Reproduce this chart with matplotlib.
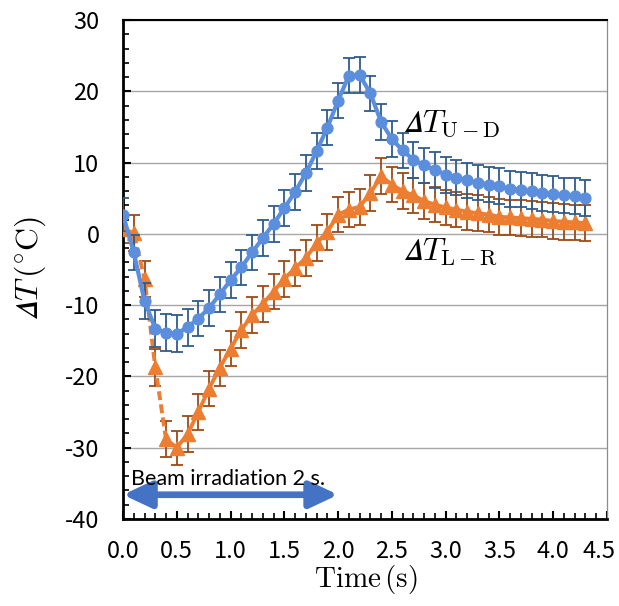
import numpy as np
import matplotlib
matplotlib.use("Agg")
import matplotlib.pyplot as plt
from matplotlib.ticker import MultipleLocator
from matplotlib.transforms import ScaledTranslation

plt.rcParams['mathtext.fontset'] = 'cm'
plt.rcParams['axes.unicode_minus'] = False

# time axis (s), sampled every 0.1 s
time = [0.0, 0.1, 0.2, 0.3, 0.4, 0.5, 0.6, 0.7, 0.8, 0.9,
        1.0, 1.1, 1.2, 1.3, 1.4, 1.5, 1.6, 1.7, 1.8, 1.9,
        2.0, 2.1, 2.2, 2.3, 2.4, 2.5, 2.6, 2.7, 2.8, 2.9,
        3.0, 3.1, 3.2, 3.3, 3.4, 3.5, 3.6, 3.7, 3.8, 3.9,
        4.0, 4.1, 4.2, 4.3]

# Delta T up-down
dt_ud = [2.7, -2.6, -9.4, -13.3, -13.9, -14.0, -13.1, -11.9, -10.4, -8.5,
         -6.5, -4.7, -2.6, -0.6, 1.4, 3.6, 5.9, 8.5, 11.6, 14.9,
         18.7, 22.2, 22.3, 19.7, 15.7, 13.3, 11.7, 10.4, 9.6, 9.0,
         8.3, 7.9, 7.5, 7.2, 6.9, 6.7, 6.3, 6.2, 6.0, 5.7,
         5.6, 5.4, 5.3, 5.0]
err_ud = [2.3, 2.5, 2.5, 2.6, 2.6, 2.6, 2.6, 2.5, 2.5, 2.5,
          2.5, 2.5, 2.5, 2.5, 2.5, 2.5, 2.5, 2.5, 2.5, 2.5,
          2.5, 2.5, 2.5, 2.5, 2.5, 2.5, 2.5, 2.5, 2.5, 2.5,
          2.5, 2.5, 2.5, 2.5, 2.5, 2.5, 2.5, 2.5, 2.5, 2.5,
          2.5, 2.5, 2.5, 2.5]

# Delta T left-right
dt_lr = [0.7, 0.1, -6.3, -18.7, -28.8, -30.0, -28.1, -25.0, -21.7, -18.8,
         -16.1, -13.5, -11.4, -9.8, -8.1, -6.3, -4.8, -3.4, -1.3, 0.3,
         2.7, 3.4, 3.8, 5.7, 8.1, 6.9, 6.0, 5.4, 4.6, 4.1,
         3.7, 3.4, 3.1, 2.9, 2.7, 2.4, 2.3, 2.2, 2.1, 2.0,
         1.8, 1.7, 1.6, 1.5]
err_lr = [2.0, 2.5, 2.5, 2.6, 2.5, 2.4, 2.5, 2.5, 2.5, 2.5,
          2.5, 2.5, 2.5, 2.5, 2.5, 2.5, 2.5, 2.5, 2.5, 2.5,
          2.5, 2.5, 2.5, 2.5, 2.5, 2.5, 2.5, 2.5, 2.5, 2.5,
          2.5, 2.5, 2.5, 2.5, 2.5, 2.5, 2.5, 2.5, 2.5, 2.5,
          2.5, 2.5, 2.5, 2.5]
n_dashed = 6  # first points of the L-R curve joined with a dashed line

blue = '#5B8EDC'
blue_err = '#2F5C8C'
orange = '#ED7D31'
orange_err = '#9E4A14'

fig = plt.figure(figsize=(6.19, 6.06), dpi=100)
ax = fig.add_axes([0.1987, 0.1436, 0.7819, 0.8234])

# orange series
ax.errorbar(time, dt_lr, yerr=err_lr, fmt='none', ecolor=orange_err,
            elinewidth=1.3, capsize=4, capthick=1.3, zorder=2)
ax.plot(time[:n_dashed], dt_lr[:n_dashed], color=orange, lw=2.8,
        dashes=(2.3, 1.1), zorder=3)
ax.plot(time[n_dashed - 1:], dt_lr[n_dashed - 1:], color=orange, lw=2.8, zorder=3)
ax.plot(time, dt_lr, ls='none', marker='^', ms=10, color=orange, zorder=3)

# blue series
ax.errorbar(time, dt_ud, yerr=err_ud, fmt='none', ecolor=blue_err,
            elinewidth=1.3, capsize=4, capthick=1.3, zorder=4)
ax.plot(time, dt_ud, color=blue, lw=3, marker='o', ms=7.8, zorder=5)

ax.set_xlim(0, 4.5)
ax.set_ylim(-40, 30)
ax.xaxis.set_major_locator(MultipleLocator(0.5))
ax.xaxis.set_minor_locator(MultipleLocator(0.1))
ax.yaxis.set_major_locator(MultipleLocator(10))
ax.yaxis.set_minor_locator(MultipleLocator(2))
ax.xaxis.set_major_formatter(lambda v, p: f'{v:.1f}')
ax.yaxis.set_major_formatter(lambda v, p: f'{v:.0f}')

ax.grid(axis='y', which='major', color='#A6A6A6', lw=1.0, zorder=0)
ax.set_axisbelow(True)

ax.tick_params(which='both', direction='in', top=False, right=False,
               labelsize=17, color='black')
ax.tick_params(which='major', length=6, width=1.5)
ax.tick_params(which='minor', length=4, width=1.2)
ax.tick_params(axis='x', which='major', pad=15)
ax.tick_params(axis='y', which='major', pad=17)
for lab in ax.get_xticklabels() + ax.get_yticklabels():
    lab.set_fontfamily(['Noto Sans CJK JP', 'DejaVu Sans'])
# last x label nudged left so it stays inside the figure
for lab in ax.get_xticklabels():
    if lab.get_text() == '4.5':
        lab.set_transform(lab.get_transform() +
                          ScaledTranslation(-0.08, 0, fig.dpi_scale_trans))

for side in ['left', 'bottom']:
    ax.spines[side].set_linewidth(2.0)
    ax.spines[side].set_color('black')
ax.spines['top'].set_linewidth(1.5)
ax.spines['right'].set_color('#8C8C8C')
ax.spines['right'].set_linewidth(0.9)

ax.set_ylabel(r'$𝛥T\,(^{\circ}\mathrm{C})$', fontsize=23, va='center')
ax.yaxis.set_label_coords(-0.192, 0.503)
ax.set_xlabel(r'$\mathrm{Time\,(s)}$', fontsize=21, va='center')
ax.xaxis.set_label_coords(0.502, -0.122)

ax.text(2.6, 14.4, r'$𝛥T_{\mathrm{U-D}}$', fontsize=23,
        ha='left', va='baseline')
ax.text(2.6, -3.6, r'$𝛥T_{\mathrm{L-R}}$', fontsize=23,
        ha='left', va='baseline')

# beam irradiation period
ax.annotate('', xy=(0.0, -36.6), xytext=(2.0, -36.6),
            arrowprops=dict(arrowstyle='<|-|>,head_length=0.85,head_width=0.4',
                            mutation_scale=20, lw=4.8, color='#4472C4',
                            shrinkA=0, shrinkB=0), zorder=6)
ax.text(0.075, -35.2, 'Beam irradiation 2 s.', fontsize=15.5, family='Lato',
        ha='left', va='baseline', zorder=6)

fig.savefig('out.png', dpi=100)
